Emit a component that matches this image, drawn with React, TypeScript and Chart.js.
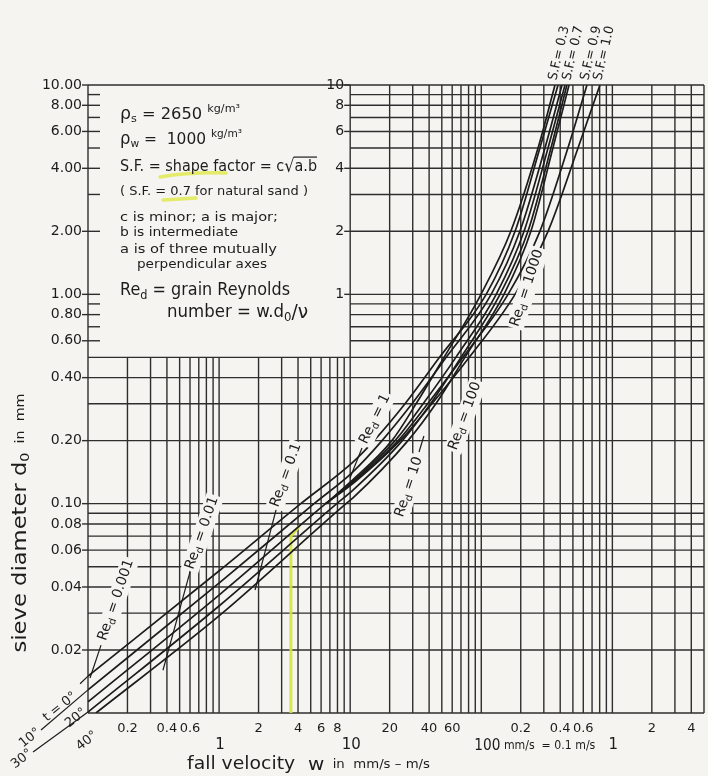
import React, { useEffect, useRef } from 'react';
import { Chart, registerables } from 'chart.js';

Chart.register(...registerables);

type Pt = [number, number]; // [fall velocity w (mm/s), sieve diameter d0 (mm)]

// temperature curves (natural sand)
const CURVE_T0: Pt[] = [[0.1, 0.015], [1.02, 0.0482], [4.2, 0.1], [10.5, 0.158], [15.2, 0.2], [26.2, 0.3], [48, 0.5], [109, 1], [181, 2], [280, 5], [385, 10]];
const CURVE_T10: Pt[] = [[0.1, 0.0129], [1.02, 0.0422], [5.3, 0.1], [10.5, 0.142], [17.5, 0.2], [29.6, 0.3], [54, 0.5], [119, 1], [197, 2], [306, 5], [413, 10]];
const CURVE_T20: Pt[] = [[0.1, 0.0113], [1.02, 0.037], [6.5, 0.1], [10.5, 0.128], [22, 0.2], [36, 0.3], [64, 0.5], [130, 1], [212, 2], [323, 5], [435, 10]];
const CURVE_T30: Pt[] = [[0.1, 0.0101], [1.02, 0.0328], [7.9, 0.1], [10.5, 0.116], [25, 0.2], [41, 0.3], [70, 0.5], [139, 1], [227, 2], [340, 5], [450, 10]];
const CURVE_T40: Pt[] = [[0.115, 0.01], [1.02, 0.0294], [9.3, 0.1], [10.5, 0.1065], [27.6, 0.2], [45, 0.3], [75, 0.5], [149, 1], [239, 2], [352, 5], [467, 10]];

// shape-factor curves (branching off the 20° curve)
const CURVE_SF03: Pt[] = [[6.5, 0.1], [10.2, 0.128], [20.8, 0.2], [31.8, 0.3], [52, 0.5], [99.5, 1], [168, 2], [271, 5], [365, 10]];
const CURVE_SF09: Pt[] = [[6.5, 0.1], [10.8, 0.128], [23.2, 0.2], [39, 0.3], [72.5, 0.5], [160, 1], [280, 2], [458, 5], [640, 10]];
const CURVE_SF10: Pt[] = [[6.5, 0.1], [11, 0.128], [24, 0.2], [42, 0.3], [81, 0.5], [181, 1], [323, 2], [547, 5], [804, 10]];

// grain Reynolds number markers
const RE_0001: Pt[] = [[0.1257, 0.0211], [0.1036, 0.0147]];
const RE_001: Pt[] = [[0.6, 0.0472], [0.373, 0.016]];
const RE_01: Pt[] = [[2.72, 0.0933], [1.88, 0.0387]];
const RE_1: Pt[] = [[12.3, 0.1845], [9.97, 0.1326]];
const RE_10: Pt[] = [[33.5, 0.1765], [36.5, 0.2106]];

// temperature label leaders (continuations left of the axis)
const LEADER_T0: Pt[] = [[0.087, 0.0138], [0.1, 0.015]];
const LEADER_T10: Pt[] = [[0.0438, 0.0083], [0.1, 0.0129]];
const LEADER_T30: Pt[] = [[0.0381, 0.00651], [0.1, 0.0101]];

// yellow highlighter mark
const YELLOW_MARK: Pt[] = [[3.53, 0.01], [3.53, 0.07], [4.1, 0.078]];

// grid and ticks
const W_GRID = [0.1, 0.2, 0.3, 0.4, 0.5, 0.6, 0.7, 0.8, 0.9, 1, 2, 3, 4, 5, 6, 7, 8, 9, 10, 20, 30, 40, 50, 60, 70, 80, 90, 100, 200, 300, 400, 500, 600, 700, 800, 900, 1000, 2000, 3000, 4000, 5000];
const D_GRID = [0.01, 0.02, 0.03, 0.04, 0.05, 0.06, 0.07, 0.08, 0.09, 0.1, 0.2, 0.3, 0.4, 0.5, 0.6, 0.7, 0.8, 0.9, 1, 2, 3, 4, 5, 6, 7, 8, 9, 10];
const D_TICKS = [10, 8, 6, 4, 2, 1, 0.8, 0.6, 0.4, 0.2, 0.1, 0.08, 0.06, 0.04, 0.02];
const D_TICK_LABELS = ['10.00', '8.00', '6.00', '4.00', '2.00', '1.00', '0.80', '0.60', '0.40', '0.20', '0.10', '0.08', '0.06', '0.04', '0.02'];
const D_INNER_TICKS = [10, 8, 6, 4, 2, 1];
const D_INNER_LABELS = ['10', '8', '6', '4', '2', '1'];
const W_MINOR_TICKS = [0.2, 0.4, 0.6, 2, 4, 6, 8, 20, 40, 60, 200, 400, 600, 2000, 4000];
const W_MINOR_LABELS = ['0.2', '0.4', '0.6', '2', '4', '6', '8', '20', '40', '60', '0.2', '0.4', '0.6', '2', '4'];
const W_MAJOR_TICKS = [1, 10, 1000];
const W_MAJOR_LABELS = ['1', '10', '1'];

const BG = '#f5f4f0';
const INK = '#1c1c1c';
const GRID = '#2e2e2e';
const FAM = '"DejaVu Sans", "Noto Sans", sans-serif';

type Seg = { t: string; s: number; dy?: number; over?: boolean };

function segFont(sg: Seg) {
  return `${sg.s}px ${FAM}`;
}
function measure(ctx: CanvasRenderingContext2D, segs: Seg[]) {
  let w = 0;
  for (const sg of segs) {
    ctx.font = segFont(sg);
    w += ctx.measureText(sg.t).width;
  }
  return w;
}
function drawSegs(
  ctx: CanvasRenderingContext2D,
  segs: Seg[],
  x: number,
  y: number,
  o: { align?: 'left' | 'center' | 'right'; width?: number; rot?: number; knock?: boolean } = {}
) {
  const nat = measure(ctx, segs);
  const sx = o.width ? o.width / nat : 1;
  const total = nat * sx;
  ctx.save();
  ctx.translate(x, y);
  if (o.rot) ctx.rotate((o.rot * Math.PI) / 180);
  const start = o.align === 'center' ? -total / 2 : o.align === 'right' ? -total : 0;
  if (o.knock) {
    const h = Math.max(...segs.map((s) => s.s));
    ctx.fillStyle = BG;
    ctx.fillRect(start - 2, -h * 0.62, total + 4, h * 1.3);
  }
  ctx.translate(start, 0);
  ctx.scale(sx, 1);
  ctx.fillStyle = INK;
  ctx.strokeStyle = INK;
  ctx.textBaseline = 'middle';
  ctx.textAlign = 'left';
  let cx = 0;
  for (const sg of segs) {
    ctx.font = segFont(sg);
    ctx.fillText(sg.t, cx, sg.dy || 0);
    const w = ctx.measureText(sg.t).width;
    if (sg.over) {
      ctx.lineWidth = 1.2;
      ctx.beginPath();
      ctx.moveTo(cx - 1, -sg.s * 0.62);
      ctx.lineTo(cx + w, -sg.s * 0.62);
      ctx.stroke();
    }
    cx += w;
  }
  ctx.restore();
}

const bgPlugin = {
  id: 'paper',
  beforeDraw(chart: any) {
    const { ctx, width, height } = chart;
    ctx.save();
    ctx.fillStyle = BG;
    ctx.fillRect(0, 0, width, height);
    ctx.restore();
  },
};

const gridPlugin = {
  id: 'splitGrid',
  beforeDatasetsDraw(chart: any) {
    const { ctx, chartArea, scales } = chart;
    const { left, right, top, bottom } = chartArea;
    const xs = scales.x;
    const ys = scales.y;
    const xSplit = xs.getPixelForValue(10);
    const ySplit = ys.getPixelForValue(0.5);
    const seg = (x1: number, y1: number, x2: number, y2: number) => {
      ctx.beginPath();
      ctx.moveTo(x1, y1);
      ctx.lineTo(x2, y2);
      ctx.stroke();
    };
    ctx.save();
    ctx.strokeStyle = GRID;
    ctx.lineWidth = 1.4;
    for (const w of W_GRID) {
      const px = xs.getPixelForValue(w);
      const inBlank = w > 0.1001 && w < 9.99;
      seg(px, inBlank ? ySplit : top, px, bottom);
    }
    for (const d of D_GRID) {
      const py = ys.getPixelForValue(d);
      const inBlank = d > 0.5001 && d < 9.99;
      seg(inBlank ? xSplit : left, py, right, py);
      if (inBlank) seg(left, py, left + 12, py);
    }
    for (const d of D_TICKS) {
      const py = ys.getPixelForValue(d);
      seg(left - 6, py, left, py);
    }
    for (const d of D_INNER_TICKS) {
      const py = ys.getPixelForValue(d);
      seg(xSplit - 6, py, xSplit, py);
    }
    ctx.restore();
  },
};

const textPlugin = {
  id: 'texts',
  afterDatasetsDraw(chart: any) {
    const { ctx, chartArea, scales } = chart;
    const { left, bottom } = chartArea;
    const xs = scales.x;
    const ys = scales.y;
    ctx.save();

    // axis tick labels
    D_TICKS.forEach((d, i) => {
      drawSegs(ctx, [{ t: D_TICK_LABELS[i], s: 14 }], left - 6, ys.getPixelForValue(d), { align: 'right' });
    });
    D_INNER_TICKS.forEach((d, i) => {
      drawSegs(ctx, [{ t: D_INNER_LABELS[i], s: 14 }], xs.getPixelForValue(10) - 6, ys.getPixelForValue(d), { align: 'right' });
    });
    W_MINOR_TICKS.forEach((w, i) => {
      drawSegs(ctx, [{ t: W_MINOR_LABELS[i], s: 13 }], xs.getPixelForValue(w), bottom + 16, { align: 'center' });
    });
    W_MAJOR_TICKS.forEach((w, i) => {
      drawSegs(ctx, [{ t: W_MAJOR_LABELS[i], s: 15 }], xs.getPixelForValue(w) + 1, bottom + 32, { align: 'center' });
    });
    drawSegs(
      ctx,
      [{ t: '100', s: 15 }, { t: ' mm/s', s: 12 }, { t: '  = 0.1 m/s', s: 12 }],
      xs.getPixelForValue(100) - 7,
      bottom + 33,
      { width: 121 }
    );

    // axis titles
    drawSegs(
      ctx,
      [{ t: 'fall velocity', s: 17 }, { t: '  w', s: 18 }, { t: '  in  mm/s – m/s', s: 12 }],
      187,
      765,
      { width: 243 }
    );
    drawSegs(
      ctx,
      [{ t: 'sieve diameter ', s: 19 }, { t: 'd', s: 19 }, { t: '0', s: 12, dy: 5 }, { t: '  in  mm', s: 12 }],
      21,
      523,
      { align: 'center', rot: -90, width: 259 }
    );

    // highlighter under text
    ctx.save();
    ctx.strokeStyle = 'rgba(222,232,70,0.8)';
    ctx.lineWidth = 3.5;
    ctx.lineCap = 'round';
    ctx.beginPath();
    ctx.moveTo(160, 177);
    ctx.quadraticCurveTo(190, 172, 226, 173);
    ctx.stroke();
    ctx.beginPath();
    ctx.moveTo(163, 200);
    ctx.lineTo(196, 198);
    ctx.stroke();
    ctx.restore();

    // legend block
    drawSegs(ctx, [{ t: 'ρ', s: 17 }, { t: 's', s: 11, dy: 4 }, { t: ' = 2650 ', s: 16 }, { t: 'kg/m³', s: 11, dy: -6 }], 120, 115, { width: 120 });
    drawSegs(ctx, [{ t: 'ρ', s: 17 }, { t: 'w', s: 11, dy: 4 }, { t: ' =  1000 ', s: 16 }, { t: 'kg/m³', s: 11, dy: -6 }], 120, 140, { width: 122 });
    drawSegs(ctx, [{ t: 'S.F. = shape factor = c', s: 16 }, { t: '√', s: 18 }, { t: 'a.b', s: 16, over: true }], 120, 167, { width: 197 });
    drawSegs(ctx, [{ t: '( S.F. = 0.7 for natural sand )', s: 13 }], 120, 192, { width: 188 });
    drawSegs(ctx, [{ t: 'c is minor; a is major;', s: 13 }], 120, 218, { width: 158 });
    drawSegs(ctx, [{ t: 'b is intermediate', s: 13 }], 120, 233, { width: 118 });
    drawSegs(ctx, [{ t: 'a is of three mutually', s: 13 }], 120, 250, { width: 157 });
    drawSegs(ctx, [{ t: 'perpendicular axes', s: 13 }], 137, 265, { width: 130 });
    drawSegs(ctx, [{ t: 'Re', s: 17 }, { t: 'd', s: 12, dy: 5 }, { t: ' = grain Reynolds', s: 17 }], 120, 291, { width: 170 });
    drawSegs(ctx, [{ t: 'number = w.d', s: 17 }, { t: '0', s: 12, dy: 5 }, { t: '/ν', s: 19 }], 167, 313, { width: 141 });

    // shape factor labels at the top
    const sfLabels: [string, number][] = [['S.F.= 0.3', 553], ['S.F.= 0.7', 567], ['S.F.= 0.9', 585], ['S.F.= 1.0', 598]];
    sfLabels.forEach(([t, x]) => drawSegs(ctx, [{ t, s: 13 }], x, 80, { rot: -77, width: 55 }));

    // Reynolds labels
    const re = (v: string): Seg[] => [{ t: 'Re', s: 14 }, { t: 'd', s: 10, dy: 4 }, { t: ` = ${v}`, s: 14 }];
    const reLabels: [string, number, number, number][] = [
      ['0.001', 116, 600, -71],
      ['0.01', 202, 533, -71],
      ['0.1', 286, 475, -70],
      ['1', 375, 419, -64],
      ['10', 409, 487, -72],
      ['100', 465, 416, -70],
      ['1000', 527, 288, -72],
    ];
    reLabels.forEach(([v, x, y, r]) => drawSegs(ctx, re(v), x, y, { align: 'center', rot: r, knock: true }));

    // temperature labels
    const tLabels: [string, number, number][] = [
      ['t = 0°', 60, 707],
      ['10°', 30, 738],
      ['20°', 76, 718],
      ['30°', 22, 759],
      ['40°', 87, 741],
    ];
    tLabels.forEach(([t, x, y]) => drawSegs(ctx, [{ t, s: 13 }], x, y, { align: 'center', rot: -38.7 }));

    ctx.restore();
  },
};

const toXY = (pts: Pt[]) => pts.map(([w, d]) => ({ x: w, y: d }));

export default function App() {
  const ref = useRef<HTMLCanvasElement | null>(null);
  useEffect(() => {
    if (!ref.current) return;
    const curve = (pts: Pt[], width = 1.7) => ({
      data: toXY(pts),
      borderColor: INK,
      borderWidth: width,
      pointRadius: 0,
      fill: false,
      cubicInterpolationMode: 'monotone' as const,
    });
    const straight = (pts: Pt[], clip = true) => ({
      data: toXY(pts),
      borderColor: INK,
      borderWidth: 1.2,
      pointRadius: 0,
      fill: false,
      tension: 0,
      clip: clip ? undefined : false,
    });
    const chart = new Chart(ref.current, {
      type: 'line',
      data: {
        datasets: [
          curve(CURVE_T0),
          curve(CURVE_T10),
          curve(CURVE_T20),
          curve(CURVE_T30),
          curve(CURVE_T40),
          curve(CURVE_SF03),
          curve(CURVE_SF09),
          curve(CURVE_SF10),
          straight(RE_0001),
          straight(RE_001),
          straight(RE_01),
          straight(RE_1),
          straight(RE_10),
          straight(LEADER_T0, false),
          straight(LEADER_T10, false),
          straight(LEADER_T30, false),
          {
            data: toXY(YELLOW_MARK),
            borderColor: 'rgba(214,228,60,0.9)',
            borderWidth: 3,
            pointRadius: 0,
            fill: false,
            tension: 0,
          },
        ] as any,
      },
      options: {
        animation: false,
        responsive: false,
        maintainAspectRatio: false,
        layout: { padding: { left: 88, right: 4, top: 85, bottom: 63 } },
        scales: {
          x: { type: 'logarithmic', min: 0.1, max: 5000, display: false },
          y: { type: 'logarithmic', min: 0.01, max: 10, display: false },
        },
        plugins: { legend: { display: false }, tooltip: { enabled: false } },
        elements: { point: { radius: 0 } },
      },
      plugins: [bgPlugin, gridPlugin, textPlugin],
    } as any);
    return () => chart.destroy();
  }, []);
  return (
    <div style={{ position: 'fixed', left: 0, top: 0, width: 708, height: 776 }}>
      <canvas ref={ref} width={708} height={776} style={{ width: 708, height: 776, display: 'block' }} />
    </div>
  );
}
